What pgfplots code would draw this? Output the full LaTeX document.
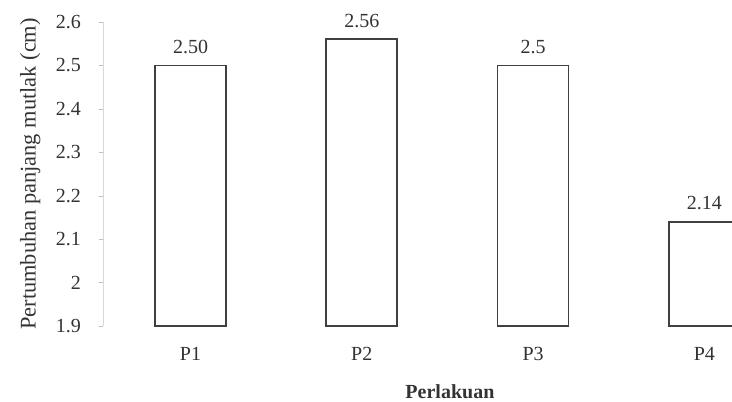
\documentclass[border=0pt]{standalone}
\usepackage{fontspec}
\setmainfont{Liberation Serif}
\usepackage{pgfplots}
\pgfplotsset{compat=1.18}
\usepackage{pgfplotstable}

\pgfplotstableread{
x y lbl
0 2.50 2.50
1 2.56 2.56
2 2.50 2.5
3 2.14 2.14
}\datatable

\begin{document}
\begin{tikzpicture}
\path[use as bounding box, clip] (-51.5pt,-37.5pt) rectangle (314.5pt,163pt);
\begin{axis}[
  scale only axis,
  width=343.5pt, height=152pt,
  xmin=-0.511, xmax=3.5,
  ymin=1.9, ymax=2.6,
  y coord trafo/.code={\pgfmathparse{#1-1.9}},
  y coord inv trafo/.code={\pgfmathparse{#1+1.9}},
  axis lines*=left,
  x axis line style={draw=none},
  y axis line style={draw=black!15},
  xtick={0,1,2,3},
  xticklabels={P1,P2,P3,P4},
  ytick={1.9,2.0,2.1,2.2,2.3,2.4,2.5,2.6},
  yticklabels={1.9,2,2.1,2.2,2.3,2.4,2.5,2.6},
  xtick style={draw=none},
  ytick style={draw=black!25},
  tick align=outside,
  major tick length=2pt,
  tick label style={text=black!80},
  yticklabel style={xshift=-5.5pt},
  xticklabel style={yshift=-5pt},
  ylabel={Pertumbuhan panjang mutlak (cm)},
  ylabel style={at={(axis description cs:-0.106,0.5)}, anchor=center, text=black!80, font=\fontsize{11.2}{13}\selectfont},
  xlabel={Perlakuan},
  xlabel style={at={(axis description cs:0.505,-0.217)}, anchor=center, font=\bfseries, text=black!80},
]
\addplot[ybar, bar width=35.5pt, bar shift=0pt, fill=white, draw=black!75, line width=0.9pt,
  nodes near coords, point meta=explicit symbolic,
  every node near coord/.append style={text=black!80, yshift=2pt}]
  table[x=x, y=y, meta=lbl] {\datatable};
\end{axis}
\end{tikzpicture}
\end{document}
